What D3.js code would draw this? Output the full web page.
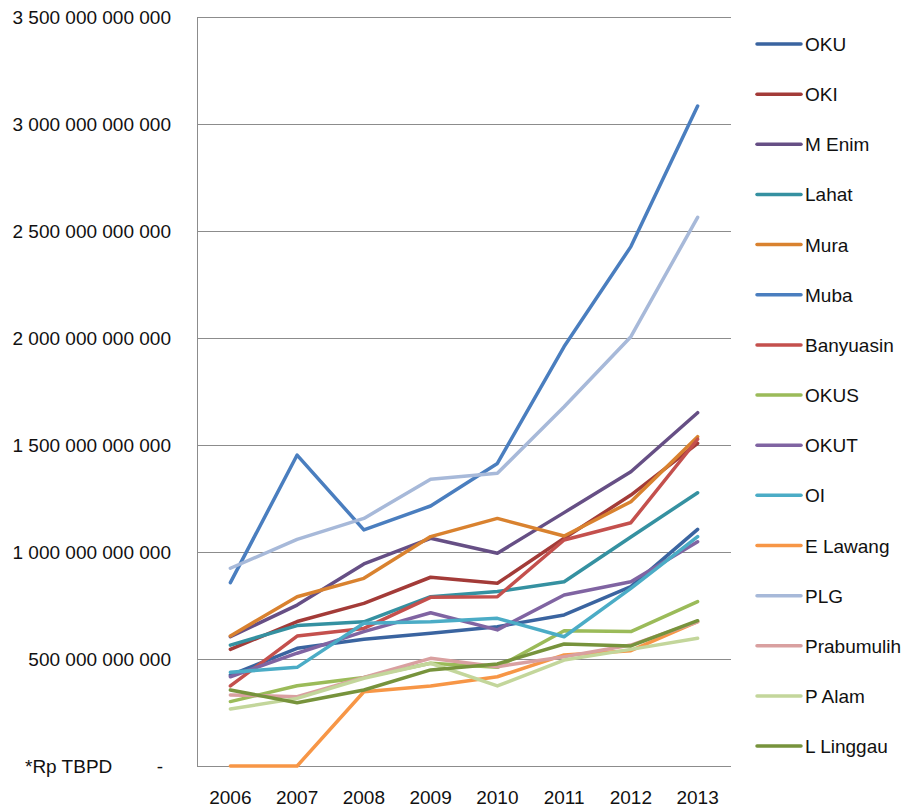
<!DOCTYPE html>
<html>
<head>
<meta charset="utf-8">
<script src="https://cdn.jsdelivr.net/npm/d3@7"></script>
<style>
  body { margin: 0; background: #fff; }
  text { font-family: "Liberation Sans", Arial, sans-serif; fill: #111; }
</style>
</head>
<body>
<svg id="chart" width="904" height="808"></svg>
<script>
// values in billions of Rupiah
var years = ["2006", "2007", "2008", "2009", "2010", "2011", "2012", "2013"];
var regions = ["OKU", "OKI", "M Enim", "Lahat", "Mura", "Muba", "Banyuasin", "OKUS",
               "OKUT", "OI", "E Lawang", "PLG", "Prabumulih", "P Alam", "L Linggau"];
var colors = ["#3A64A0", "#A33B38", "#664F85", "#3591A1", "#D9822F", "#4A7EBF", "#C4504D", "#9BBB59",
              "#8064A2", "#4BACC6", "#F79646", "#A7B9D9", "#D9A0A0", "#C3D69B", "#77933C"];

var oku        = [425, 550, 592, 620, 651, 706, 838, 1106];
var oki        = [545, 675, 760, 882, 854, 1064, 1266, 1508];
var mEnim      = [604, 752, 944, 1064, 994, 1184, 1375, 1651];
var lahat      = [565, 656, 674, 791, 815, 861, 1070, 1277];
var mura       = [608, 791, 877, 1072, 1157, 1075, 1235, 1539];
var muba       = [857, 1453, 1103, 1215, 1414, 1960, 2427, 3084];
var banyuasin  = [374, 607, 643, 788, 791, 1056, 1137, 1527];
var okus       = [301, 375, 414, 480, 461, 632, 628, 768];
var okut       = [417, 527, 628, 716, 636, 799, 861, 1048];
var oi         = [438, 461, 667, 674, 690, 604, 830, 1072];
var eLawang    = [0, 0, 347, 374, 417, 519, 539, 674];
var plg        = [924, 1059, 1157, 1340, 1368, 1679, 2006, 2564];
var prabumulih = [332, 324, 414, 503, 464, 511, 565, 674];
var pAlam      = [266, 316, 410, 480, 374, 495, 545, 597];
var lLinggau   = [355, 296, 355, 449, 477, 570, 561, 679];

var yTicks = [0, 500e9, 1000e9, 1500e9, 2000e9, 2500e9, 3000e9, 3500e9];

(function(d3) {

    var seriesValues = [oku, oki, mEnim, lahat, mura, muba, banyuasin, okus,
                        okut, oi, eLawang, plg, prabumulih, pAlam, lLinggau];

    var series = regions.map(function(name, i) {
        return { name: name, color: colors[i], values: seriesValues[i].map(function(v) { return v * 1e9; }) };
    });

    var svg = d3.select("#chart");
    var plotLeft = 197, plotRight = 731, plotTop = 17, plotBottom = 766;

    var x = d3.scaleBand().domain(years).range([plotLeft, plotRight]);
    var y = d3.scaleLinear().domain([0, 3500e9]).range([plotBottom, plotTop]);

    var fmt = function(v) {
        return v === 0 ? "-" : d3.format(",.0f")(v).replace(/,/g, " ");
    };

    // gridlines
    svg.append("g").selectAll("line")
        .data(yTicks.slice(1))
        .enter().append("line")
        .attr("x1", plotLeft).attr("x2", plotRight)
        .attr("y1", function(d) { return Math.round(y(d)) + 0.5; })
        .attr("y2", function(d) { return Math.round(y(d)) + 0.5; })
        .attr("stroke", "#8c8c8c").attr("stroke-width", 1);

    // axis lines
    svg.append("line")
        .attr("x1", plotLeft + 0.5).attr("x2", plotLeft + 0.5)
        .attr("y1", plotTop).attr("y2", plotBottom + 0.5)
        .attr("stroke", "#8c8c8c");
    svg.append("line")
        .attr("x1", plotLeft).attr("x2", plotRight)
        .attr("y1", plotBottom + 0.5).attr("y2", plotBottom + 0.5)
        .attr("stroke", "#8c8c8c");

    // y labels
    svg.append("g").selectAll("text")
        .data(yTicks)
        .enter().append("text")
        .attr("x", function(d) { return d === 0 ? 163 : 171; })
        .attr("y", function(d) { return y(d) + 7; })
        .attr("text-anchor", "end")
        .attr("font-size", "19px")
        .text(fmt);

    svg.append("text")
        .attr("x", 25).attr("y", 773)
        .attr("font-size", "19px")
        .attr("font-family", "'Open Sans', sans-serif")
        .text("*Rp TBPD");

    // x labels
    svg.append("g").selectAll("text")
        .data(years)
        .enter().append("text")
        .attr("x", function(d) { return x(d) + x.bandwidth() / 2; })
        .attr("y", 804)
        .attr("text-anchor", "middle")
        .attr("font-size", "19px")
        .text(function(d) { return d; });

    // lines
    var line = d3.line()
        .x(function(d, i) { return x(years[i]) + x.bandwidth() / 2; })
        .y(function(d) { return y(d); });

    svg.append("g").selectAll("path")
        .data(series)
        .enter().append("path")
        .attr("d", function(d) { return line(d.values); })
        .attr("fill", "none")
        .attr("stroke", function(d) { return d.color; })
        .attr("stroke-width", 3.5)
        .attr("stroke-linejoin", "round")
        .attr("stroke-linecap", "round");

    // legend
    var legend = svg.append("g").selectAll("g")
        .data(series)
        .enter().append("g")
        .attr("transform", function(d, i) { return "translate(757," + (44 + i * 50.15) + ")"; });

    legend.append("line")
        .attr("x1", 0).attr("x2", 44)
        .attr("stroke", function(d) { return d.color; })
        .attr("stroke-width", 3.5)
        .attr("stroke-linecap", "round");

    legend.append("text")
        .attr("x", 48).attr("y", 7)
        .attr("font-size", "19px")
        .text(function(d) { return d.name; });

})(d3);
</script>
</body>
</html>
